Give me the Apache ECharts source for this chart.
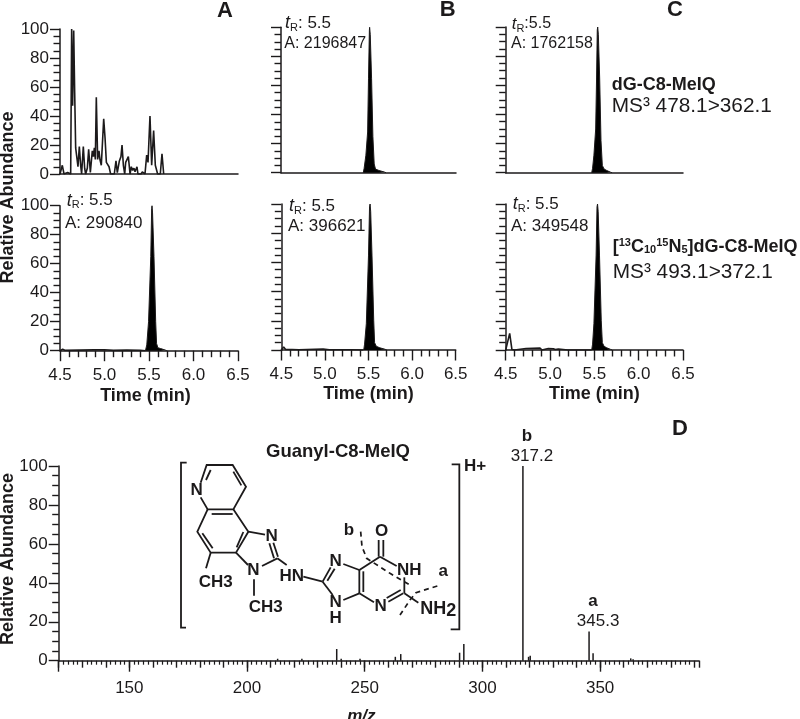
<!DOCTYPE html>
<html><head><meta charset="utf-8">
<style>html,body{margin:0;padding:0;background:#fff}#c{width:800px;height:719px}</style>
<script src="https://cdn.jsdelivr.net/npm/echarts@6/dist/echarts.min.js"></script>
</head><body><div id="c"></div>
<script>
// ---------- data: [time (min), relative abundance] ----------
const traceA1 = [[4.5,0],[4.51,0],[4.526,6],[4.545,0],[4.567,1],[4.586,1],[4.6,0],[4.62,0],[4.631,100],[4.642,47],[4.654,99],[4.665,56],[4.676,18],[4.687,17],[4.702,5],[4.717,19],[4.732,6],[4.743,0],[4.762,19],[4.777,4],[4.788,0],[4.807,4],[4.822,17],[4.841,1],[4.863,16],[4.875,12],[4.886,18],[4.897,10],[4.908,53],[4.923,10],[4.938,16],[4.949,10],[4.964,6],[4.991,38],[5.006,25],[5.021,8],[5.036,8],[5.051,5],[5.069,0],[5.11,0],[5.129,9],[5.144,1],[5.167,9],[5.185,12],[5.197,20],[5.212,6],[5.227,0],[5.238,8],[5.253,7],[5.268,12],[5.287,0],[5.301,5],[5.316,2.5],[5.331,4],[5.343,1.5],[5.365,5],[5.376,0],[5.41,0],[5.425,1.5],[5.444,1],[5.455,0],[5.474,13],[5.489,8],[5.511,40],[5.53,6],[5.552,30],[5.571,6],[5.586,7],[5.597,0],[5.609,1],[5.627,0],[5.646,14],[5.665,0]];
const noiseA2 = [[4.5,0],[4.53,1],[4.56,0.2],[4.72,0.4],[4.88,0.6],[5.0,0.7],[5.1,0.2],[5.25,0.4],[5.4,0.2],[5.46,0]];
const peakA2 = [[5.46,0],[5.475,4],[5.495,20],[5.52,65],[5.53,98],[5.534,100],[5.54,95],[5.556,65],[5.575,20],[5.585,5],[5.6,2],[5.63,1.5],[5.68,0.5],[5.7,0]];
const peakB1 = [[5.44,0],[5.45,3],[5.47,12],[5.49,28],[5.5,65],[5.51,98],[5.513,100],[5.52,95],[5.535,65],[5.55,25],[5.565,6],[5.58,2.5],[5.62,1.5],[5.68,0.5],[5.7,0]];
const noiseB2 = [[4.5,0],[4.527,2],[4.55,0.4],[4.7,0.2],[4.98,0.7],[5.05,0.2],[5.3,0.2],[5.44,0]];
const peakB2 = [[5.445,0],[5.455,4],[5.475,18],[5.5,65],[5.512,98],[5.518,100],[5.525,95],[5.54,65],[5.56,20],[5.57,5],[5.59,2.5],[5.63,1.5],[5.69,0.5],[5.71,0]];
const peakC1 = [[5.47,0],[5.48,3],[5.495,12],[5.515,30],[5.525,65],[5.533,98],[5.538,100],[5.545,95],[5.56,65],[5.575,22],[5.59,5],[5.61,2.5],[5.64,1.5],[5.68,0.4],[5.7,0]];
const noiseC2 = [[4.5,0],[4.51,0.5],[4.545,11.4],[4.57,0.4],[4.6,0],[4.729,1],[4.75,0],[4.887,1.3],[4.91,0],[4.98,1],[5.0,0.2],[5.037,0.9],[5.06,0.3],[5.094,0.7],[5.2,0],[5.47,0]];
const peakC2 = [[5.47,0],[5.48,4],[5.495,18],[5.52,65],[5.53,98],[5.536,100],[5.543,95],[5.558,65],[5.578,20],[5.59,5],[5.61,2.5],[5.64,1.5],[5.68,0.5],[5.7,0]];
// MS3 spectrum: [m/z, relative abundance]
const spectrum = [[213,1],[223.3,1],[238.1,6],[240,1],[248,1],[263,2],[265.3,3.4],[290.3,4.1],[292.1,8.6],[317.2,100],[319.6,2],[320.3,2.5],[345.3,15],[347,3.8],[363,1.2],[364,0.8]];
const spectrumLabels = [{mz:317.2,frag:'b',text:'317.2'},{mz:345.3,frag:'a',text:'345.3'}];
const timeTicks = ['4.5','5.0','5.5','6.0','6.5'];
const mzLabels = [150,200,250,300,350];
const mzMajor = [120,150,200,250,300,350];

// ---------- layout ----------
const INK = '#1c1a1b', FONT = '"Liberation Sans",Arial,sans-serif';
const panels = [
 {l:60,   r:238,  t:29,    b:174,   series:[{d:traceA1}],                 yLab:true,  xLab:false},
 {l:281,  r:456,  t:27.3,  b:172.7, series:[{d:peakB1,fill:true}],        yLab:false, xLab:false},
 {l:505.7,r:683,  t:27,    b:172.7, series:[{d:peakC1,fill:true}],        yLab:false, xLab:false},
 {l:60,   r:238,  t:205.7, b:350.7, series:[{d:noiseA2},{d:peakA2,fill:true}], yLab:true, xLab:true, pad:[0,7,0,0], gap:36},
 {l:281.3,r:455.7,t:204,   b:350,   series:[{d:noiseB2},{d:peakB2,fill:true}], yLab:false,xLab:true, pad:[0,0,0,0], gap:35},
 {l:505.7,r:683,  t:204,   b:350,   series:[{d:noiseC2},{d:peakC2,fill:true}], yLab:false,xLab:true, pad:[0,0,0,0], gap:35}
];
const grid=[],xAxis=[],yAxis=[],series=[];
const axLine={lineStyle:{color:INK,width:1.5}};
const yCfg=(i,lab)=>({type:'value',gridIndex:i,min:0,max:100,interval:20,
  axisLine:{show:true,...axLine},
  axisTick:{show:true,length:10,lineStyle:{color:INK,width:1.4}},
  minorTick:{show:true,splitNumber:4,length:6.5,lineStyle:{color:INK,width:1.4}},
  splitLine:{show:false},minorSplitLine:{show:false},
  axisLabel:{show:lab,fontFamily:FONT,fontSize:17,color:INK,margin:11}});
panels.forEach((p,i)=>{
  grid.push({left:p.l,top:p.t,width:p.r-p.l,height:p.b-p.t,outerBoundsMode:'none'});
  xAxis.push({type:'value',gridIndex:i,min:4.5,max:6.5,interval:0.5,
    axisLine:{show:true,onZero:false,...axLine},
    axisTick:{show:p.xLab,length:10.5,lineStyle:{color:INK,width:1.4}},
    minorTick:{show:p.xLab,splitNumber:5,length:6.5,lineStyle:{color:INK,width:1.4}},
    splitLine:{show:false},minorSplitLine:{show:false},
    axisLabel:{show:p.xLab,fontFamily:FONT,fontSize:17,color:INK,margin:16,formatter:v=>timeTicks[Math.round((v-4.5)/0.5)]},
    name:p.xLab?'Time (min)':'',nameLocation:'middle',nameGap:p.gap||35,nameMoveOverlap:false,
    nameTextStyle:{fontFamily:FONT,fontWeight:'bold',fontSize:18,color:INK,padding:p.pad||0}});
  yAxis.push(yCfg(i,p.yLab));
  p.series.forEach(s=>series.push({type:'line',xAxisIndex:i,yAxisIndex:i,data:s.d,symbol:'none',silent:true,
    lineStyle:{color:INK,width:s.fill?1:1.6},
    areaStyle:s.fill?{color:'#000',opacity:1}:undefined}));
});
// spectrum panel
const D=panels.length;
const dL=58.7,dR=699,dT=466,dB=660.7;
grid.push({left:dL,top:dT,width:dR-dL,height:dB-dT,outerBoundsMode:'none'});
xAxis.push({type:'value',gridIndex:D,min:120,max:392,interval:10,
  axisLine:{show:true,onZero:false,...axLine},
  axisTick:{show:true,length:7,lineStyle:{color:INK,width:1.4}},
  minorTick:{show:true,splitNumber:5,length:4,lineStyle:{color:INK,width:1.2}},
  splitLine:{show:false},minorSplitLine:{show:false},axisLabel:{show:false},
  name:'m/z',nameLocation:'middle',nameGap:47,nameMoveOverlap:false,
  nameTextStyle:{fontFamily:FONT,fontWeight:'bold',fontStyle:'italic',fontSize:17,color:INK,padding:[0,35,0,0]}});
xAxis.push({type:'value',gridIndex:D,min:120,max:392,position:'bottom',
  axisLine:{show:false,onZero:false},
  axisTick:{show:true,length:11,customValues:mzMajor,lineStyle:{color:INK,width:1.4}},
  splitLine:{show:false},
  axisLabel:{show:true,customValues:mzLabels,fontFamily:FONT,fontSize:17,color:INK,margin:19}});
yAxis.push(yCfg(D,true));
series.push({type:'bar',xAxisIndex:D,yAxisIndex:D,barWidth:1.5,silent:true,itemStyle:{color:INK},
  data:spectrum.map(pt=>{
    const lab=spectrumLabels.find(s=>s.mz===pt[0]);
    return lab?{value:pt,label:{show:true,position:'top',distance:0,offset:[9,0],align:'center',
      formatter:'{f|'+lab.frag+'}\n{n|'+lab.text+'}',
      rich:{f:{fontFamily:FONT,fontWeight:'bold',fontSize:17,color:INK,lineHeight:20,padding:[0,10,0,0]},
            n:{fontFamily:FONT,fontSize:17,color:INK,lineHeight:20}}}}:{value:pt};
  })});

// ---------- annotation text ----------
const g=[];
function T(x,y,text,o={}){
  g.push({type:'text',x,y,rotation:o.rot||0,z:50,silent:true,style:{text,fill:INK,
    font:(o.it?'italic ':'')+(o.bold?'bold ':'')+(o.size||17)+'px '+FONT,
    align:o.align||'left',verticalAlign:'middle',rich:o.rich}});
}
[['A',225,11],['B',447.7,9.5],['C',675,9.5],['D',680,429]].forEach(a=>T(a[1],a[2],a[0],{bold:true,size:22,align:'center'}));
T(8,197.5,'Relative Abundance',{bold:true,size:18,align:'center',rot:Math.PI/2});
T(8,559,'Relative Abundance',{bold:true,size:18,align:'center',rot:Math.PI/2});
const trRich=sz=>({i:{fontFamily:FONT,fontStyle:'italic',fontSize:sz+1,fill:INK,lineHeight:24},
  s:{fontFamily:FONT,fontSize:11,fill:INK,lineHeight:24,padding:[9,0,0,0]},
  n:{fontFamily:FONT,fontSize:sz,fill:INK,lineHeight:24}});
[[66.7,200.7,': 5.5',17],[289,206,': 5.5',17],[285,23,': 5.5',17],[511.7,24,':5.5',16],[512.7,204,': 5.5',17]]
 .forEach(a=>T(a[0],a[1],'{i|t}{s|R}{n|'+a[2]+'}',{rich:trRich(a[3])}));
[[65,223.3,'A: 290840',17],[288,226.7,'A: 396621',17],[284.3,44,'A: 2196847',16],[511,44,'A: 1762158',16],[511,226,'A: 349548',17]]
 .forEach(a=>T(a[0],a[1],a[2],{size:a[3]}));
T(611.7,85,'dG-C8-MeIQ',{bold:true,size:18});
T(611.7,106.7,'MS³ 478.1>362.1',{size:20.8});
T(612.7,246.7,'[{u|13}C{d|10}{u|15}N{d|5}]dG-C8-MeIQ',{bold:true,size:18,rich:{
  u:{fontFamily:FONT,fontWeight:'bold',fontSize:11,fill:INK,padding:[0,0,7,0]},
  d:{fontFamily:FONT,fontWeight:'bold',fontSize:11,fill:INK,padding:[7,0,0,0]}}});
T(612.7,272.7,'MS³ 493.1>372.1',{size:20.8});
T(338,451.7,'Guanyl-C8-MeIQ',{bold:true,size:18.5,align:'center'});
T(475,466.7,'H+',{bold:true,size:17,align:'center'});

// ---------- chemical structure (drawn illustration, not data) ----------
const sx=z=>170+z/3, sy=z=>430+z/3;
const bonds=[
 [[50,98],[33,98],[33,593],[48,593]],[[845,103],[868,103],[868,598],[842,598]],
 [[92,158],[110,105],[188,105],[228,170],[190,238],[113,238],[92,202]],
 [[108,150],[122,120]],[[190,125],[214,166]],[[125,252],[188,252]],
 [[113,238],[82,305],[122,368],[198,368],[235,305],[190,238]],
 [[97,310],[128,355]],[[200,352],[220,306]],
 [[235,305],[285,314]],[[298,340],[312,385]],[[310,338],[324,380]],[[322,385],[276,408]],[[198,368],[234,405]],
 [[122,368],[108,415]],[[252,448],[252,497]],[[322,385],[350,405]],
 [[400,440],[458,455]],[[458,455],[482,412]],[[472,452],[494,416]],[[520,402],[568,420]],
 [[458,455],[488,495]],[[520,510],[568,490]],[[568,420],[568,490]],[[580,424],[580,486]],
 [[568,420],[630,380]],[[630,380],[680,408]],[[626,380],[626,330]],[[640,380],[640,330]],
 [[703,442],[703,490]],[[568,490],[612,517]],[[655,515],[700,490]],[[650,504],[692,480]],[[703,490],[745,518]]
];
const dashes=[
 [[572,305],[576,350],[590,385],[660,430],[725,468]],
 [[802,468],[738,488],[720,510],[690,555]]
];
bonds.forEach(b=>g.push({type:'polyline',z:40,silent:true,shape:{points:b.map(p=>[sx(p[0]),sy(p[1])])},style:{stroke:INK,lineWidth:1.8,fill:null}}));
dashes.forEach(b=>g.push({type:'polyline',z:40,silent:true,shape:{points:b.map(p=>[sx(p[0]),sy(p[1])])},style:{stroke:INK,lineWidth:1.7,fill:null,lineDash:[5,4]}}));
[['N',80,180],['N',305,318],['N',250,422],['CH3',137,457],['CH3',287,533],['HN',365,438],['N',497,395],['N',497,518],['H',497,565],
 ['N',632,530],['O',635,305],['NH',718,420],['b',537,300],['a',820,425]]
 .forEach(a=>T(sx(a[1]),sy(a[2]),a[0],{bold:true,size:17,align:'center'}));
T(sx(805),sy(537),'NH{s|2}',{bold:true,size:18,align:'center',rich:{s:{fontFamily:FONT,fontWeight:'bold',fontSize:18,fill:INK,padding:[5,0,0,0]}}});

const chart=echarts.init(document.getElementById('c'),null,{renderer:'canvas'});
chart.setOption({animation:false,backgroundColor:'#fff',grid,xAxis,yAxis,series,graphic:g});
</script></body></html>
